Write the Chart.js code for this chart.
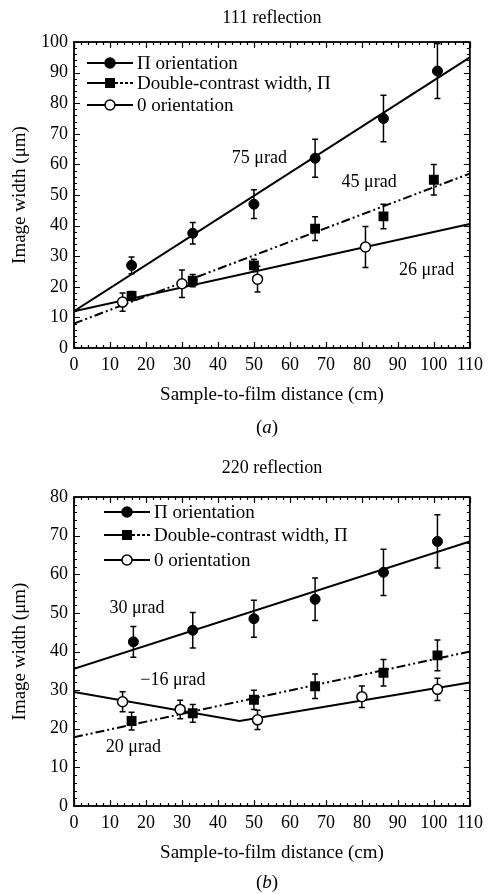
<!DOCTYPE html>
<html>
<head>
<meta charset="utf-8">
<script src="https://cdn.jsdelivr.net/npm/chart.js@4.4.0/dist/chart.umd.min.js"></script>
<style>
  body { margin: 0; background: #fff; }
  canvas { position: absolute; left: 0; }
</style>
</head>
<body>
<canvas id="chartA" width="489" height="445" style="top:0px"></canvas>
<canvas id="chartB" width="489" height="449" style="top:445px"></canvas>
<script>
// ---- data ----
const distanceTicks = [0, 10, 20, 30, 40, 50, 60, 70, 80, 90, 100, 110];
const widthTicksA = [0, 10, 20, 30, 40, 50, 60, 70, 80, 90, 100];
const widthTicksB = [0, 10, 20, 30, 40, 50, 60, 70, 80];

const seriesNames = ['\u03A0 orientation', 'Double-contrast width, \u03A0', '0 orientation'];

// (a) 111 reflection
const distA_pi = [16, 33, 50, 67, 86, 101];
const widthA_pi = [27, 37.5, 47, 62, 75, 90.5];
const errA_pi = [2.7, 3.5, 4.7, 6.2, 7.6, 9];
const distA_dc = [16, 33, 50, 67, 86, 100];
const widthA_dc = [17, 22, 27, 39, 43, 55];
const errA_dc = [1.5, 2, 2, 3.9, 4, 5];
const distA_zero = [13.5, 30, 51, 81];
const widthA_zero = [15, 21, 22.5, 33];
const errA_zero = [3, 4.5, 4.2, 6.7];
const fitA_x = [0, 110];
const fitA_pi = [12, 95];
const fitA_dc = [8, 57];
const fitA_zero = [12, 40.5];
const notesA = ['75 \u03BCrad', '45 \u03BCrad', '26 \u03BCrad'];
const notesA_x = [51.5, 82, 98];
const notesA_y = [62, 54, 25.5];

// (b) 220 reflection
const distB_pi = [16.5, 33, 50, 67, 86, 101];
const widthB_pi = [42.5, 45.5, 48.5, 53.5, 60.5, 68.5];
const errB_pi = [4, 4.6, 4.8, 5.5, 6, 6.9];
const distB_dc = [16, 33, 50, 67, 86, 101];
const widthB_dc = [22, 24, 27.5, 31, 34.5, 39];
const errB_dc = [2.3, 2.3, 2.5, 3.2, 3.4, 4];
const distB_zero = [13.5, 29.5, 51, 80, 101];
const widthB_zero = [27, 25, 22.3, 28.3, 30.2];
const errB_zero = [2.6, 2.4, 2.5, 2.8, 2.9];
const fitB_x = [0, 110];
const fitB_pi = [35.5, 68.5];
const fitB_dc = [17.8, 40];
const fitB_zero_x = [0, 46, 110];
const fitB_zero = [29.5, 22, 32];
const notesB = ['30 \u03BCrad', '\u221216 \u03BCrad', '20 \u03BCrad'];
const notesB_x = [17.5, 27.5, 16.5];
const notesB_y = [51.3, 32.6, 15.3];

// ---- drawing ----
const SERIF = '"Liberation Serif", "DejaVu Serif", serif';
Chart.defaults.font.family = SERIF;
Chart.defaults.color = '#000';

const DC_DASH = [9, 3, 2, 3, 2, 3];

function pts(xs, ys) {
  return xs.map((x, i) => ({ x: x, y: ys[i] }));
}

const errorBars = {
  id: 'errorBars',
  beforeDatasetsDraw(chart) {
    const { ctx, chartArea: a, scales: { x, y } } = chart;
    ctx.save();
    ctx.beginPath();
    ctx.rect(a.left, a.top, a.right - a.left, a.bottom - a.top);
    ctx.clip();
    ctx.strokeStyle = '#000';
    ctx.lineWidth = 1.5;
    chart.data.datasets.forEach(ds => {
      if (!ds.errors) return;
      ds.data.forEach((p, i) => {
        const px = x.getPixelForValue(p.x);
        const top = y.getPixelForValue(p.y + ds.errors[i]);
        const bot = y.getPixelForValue(p.y - ds.errors[i]);
        ctx.beginPath();
        ctx.moveTo(px, top); ctx.lineTo(px, bot);
        ctx.moveTo(px - 3, top); ctx.lineTo(px + 3, top);
        ctx.moveTo(px - 3, bot); ctx.lineTo(px + 3, bot);
        ctx.stroke();
      });
    });
    ctx.restore();
  }
};

function marker(ctx, kind, x, y) {
  ctx.beginPath();
  if (kind === 'rect') {
    ctx.rect(x - 5, y - 5, 10, 10);
    ctx.fillStyle = '#000';
    ctx.fill();
  } else {
    ctx.arc(x, y, 5, 0, Math.PI * 2);
    ctx.fillStyle = kind === 'open' ? '#fff' : '#000';
    ctx.fill();
    ctx.lineWidth = 1.5;
    ctx.strokeStyle = '#000';
    ctx.setLineDash([]);
    ctx.stroke();
  }
}

const decorations = {
  id: 'decorations',
  afterDraw(chart, args, opts) {
    const { ctx, chartArea: a, scales: { x, y } } = chart;
    ctx.save();
    // frame with inward ticks on all sides
    ctx.strokeStyle = '#000';
    ctx.lineWidth = 1.8;
    ctx.strokeRect(a.left, a.top, a.right - a.left, a.bottom - a.top);
    ctx.lineWidth = 1.2;
    ctx.beginPath();
    for (let v = x.min; v <= x.max + 0.001; v += 2) {
      const px = Math.round(x.getPixelForValue(v)) + 0.5;
      const len = v % 10 === 0 ? 6 : 3;
      ctx.moveTo(px, a.bottom); ctx.lineTo(px, a.bottom - len);
      ctx.moveTo(px, a.top); ctx.lineTo(px, a.top + len);
    }
    for (let v = y.min; v <= y.max + 0.001; v += 2) {
      const py = Math.round(y.getPixelForValue(v)) + 0.5;
      const len = v % 10 === 0 ? 6 : 3;
      ctx.moveTo(a.left, py); ctx.lineTo(a.left + len, py);
      ctx.moveTo(a.right, py); ctx.lineTo(a.right - len, py);
    }
    ctx.stroke();

    // legend
    ctx.font = '19px ' + SERIF;
    ctx.textBaseline = 'middle';
    ctx.textAlign = 'left';
    const kinds = ['filled', 'rect', 'open'];
    seriesNames.forEach((name, i) => {
      const ry = a.top + opts.legendRows[i];
      const x0 = a.left + opts.legendX;
      ctx.strokeStyle = '#000';
      ctx.lineWidth = 2;
      ctx.setLineDash([]);
      ctx.beginPath();
      ctx.moveTo(x0, ry); ctx.lineTo(x0 + 23, ry);
      ctx.stroke();
      ctx.setLineDash(i === 1 ? [3, 2] : []);
      ctx.beginPath();
      ctx.moveTo(x0 + 23, ry); ctx.lineTo(x0 + 46, ry);
      ctx.stroke();
      ctx.setLineDash([]);
      marker(ctx, kinds[i], x0 + 23, ry);
      ctx.fillStyle = '#000';
      ctx.fillText(name, x0 + 50, ry + 1);
    });

    // slope notes
    ctx.font = '18px ' + SERIF;
    ctx.textAlign = 'center';
    opts.notes.forEach((t, i) => {
      ctx.fillText(t, x.getPixelForValue(opts.notesX[i]), y.getPixelForValue(opts.notesY[i]));
    });

    // panel title
    const cx = (a.left + a.right) / 2;
    ctx.font = '18px ' + SERIF;
    ctx.fillText(opts.title, cx, opts.titleY);

    // panel label (a)/(b)
    ctx.font = '19px ' + SERIF;
    const wp = ctx.measureText('(').width;
    ctx.font = 'italic 19px ' + SERIF;
    const wl = ctx.measureText(opts.panel).width;
    const total = wp * 2 + wl;
    let lx = opts.panelX - total / 2;
    ctx.textAlign = 'left';
    ctx.font = '19px ' + SERIF;
    ctx.fillText('(', lx, opts.panelY);
    ctx.font = 'italic 19px ' + SERIF;
    ctx.fillText(opts.panel, lx + wp, opts.panelY);
    ctx.font = '19px ' + SERIF;
    ctx.fillText(')', lx + wp + wl, opts.panelY);
    ctx.restore();
  }
};

function makeChart(id, c) {
  const datasets = [
    { data: pts(c.piX, c.piY), errors: c.piErr, pointStyle: 'circle', pointRadius: 5,
      pointBackgroundColor: '#000', pointBorderColor: '#000', showLine: false },
    { data: pts(c.dcX, c.dcY), errors: c.dcErr, pointStyle: 'rect', pointRadius: 7,
      pointBackgroundColor: '#000', pointBorderColor: '#000', pointBorderWidth: 0, showLine: false },
    { data: pts(c.zeroX, c.zeroY), errors: c.zeroErr, pointStyle: 'circle', pointRadius: 5,
      pointBackgroundColor: '#fff', pointBorderColor: '#000', pointBorderWidth: 1.5, showLine: false },
    { data: pts(c.fitX, c.fitPi), showLine: true, pointRadius: 0, borderColor: '#000', borderWidth: 2 },
    { data: pts(c.fitX, c.fitDc), showLine: true, pointRadius: 0, borderColor: '#000', borderWidth: 2,
      borderDash: DC_DASH },
    { data: pts(c.fitZeroX, c.fitZero), showLine: true, pointRadius: 0, borderColor: '#000', borderWidth: 2 }
  ];
  return new Chart(document.getElementById(id), {
    type: 'scatter',
    data: { datasets: datasets },
    plugins: [errorBars, decorations],
    options: {
      responsive: false,
      animation: false,
      devicePixelRatio: 1,
      layout: { padding: { top: c.padTop, left: 0, right: 14, bottom: c.padBottom } },
      plugins: {
        legend: { display: false },
        tooltip: { enabled: false },
        decorations: {
          title: c.title, titleY: c.titleY, panel: c.panel, panelX: 267, panelY: c.panelY,
          legendX: c.legendX, legendRows: c.legendRows,
          notes: c.notes, notesX: c.notesX, notesY: c.notesY
        }
      },
      scales: {
        x: {
          type: 'linear', min: 0, max: 110,
          afterBuildTicks: s => { s.ticks = distanceTicks.map(v => ({ value: v })); },
          afterFit: s => { s.height = 70; },
          grid: { display: false, drawTicks: false },
          border: { display: false },
          ticks: { padding: 6, autoSkip: false, maxRotation: 0, font: { size: 18 } },
          title: { display: true, text: 'Sample-to-film distance (cm)', font: { size: 19 },
            padding: { top: 0, bottom: 12 } }
        },
        y: {
          type: 'linear', min: 0, max: c.yTicks[c.yTicks.length - 1],
          afterBuildTicks: s => { s.ticks = c.yTicks.map(v => ({ value: v })); },
          afterFit: s => { s.width = 74; },
          grid: { display: false, drawTicks: false },
          border: { display: false },
          ticks: { padding: 6, font: { size: 18 } },
          title: { display: true, text: 'Image width (\u03BCm)', font: { size: 19 },
            padding: { top: 9, bottom: 0 } }
        }
      }
    }
  });
}

makeChart('chartA', {
  piX: distA_pi, piY: widthA_pi, piErr: errA_pi,
  dcX: distA_dc, dcY: widthA_dc, dcErr: errA_dc,
  zeroX: distA_zero, zeroY: widthA_zero, zeroErr: errA_zero,
  fitX: fitA_x, fitPi: fitA_pi, fitDc: fitA_dc, fitZeroX: fitA_x, fitZero: fitA_zero,
  yTicks: widthTicksA, notes: notesA, notesX: notesA_x, notesY: notesA_y,
  title: '111 reflection', titleY: 18, panel: 'a', panelY: 428,
  padTop: 42, padBottom: 27, legendX: 13, legendRows: [21, 41, 63]
});

makeChart('chartB', {
  piX: distB_pi, piY: widthB_pi, piErr: errB_pi,
  dcX: distB_dc, dcY: widthB_dc, dcErr: errB_dc,
  zeroX: distB_zero, zeroY: widthB_zero, zeroErr: errB_zero,
  fitX: fitB_x, fitPi: fitB_pi, fitDc: fitB_dc, fitZeroX: fitB_zero_x, fitZero: fitB_zero,
  yTicks: widthTicksB, notes: notesB, notesX: notesB_x, notesY: notesB_y,
  title: '220 reflection', titleY: 23, panel: 'b', panelY: 438,
  padTop: 52, padBottom: 18, legendX: 30, legendRows: [15, 38, 63]
});
</script>
</body>
</html>
